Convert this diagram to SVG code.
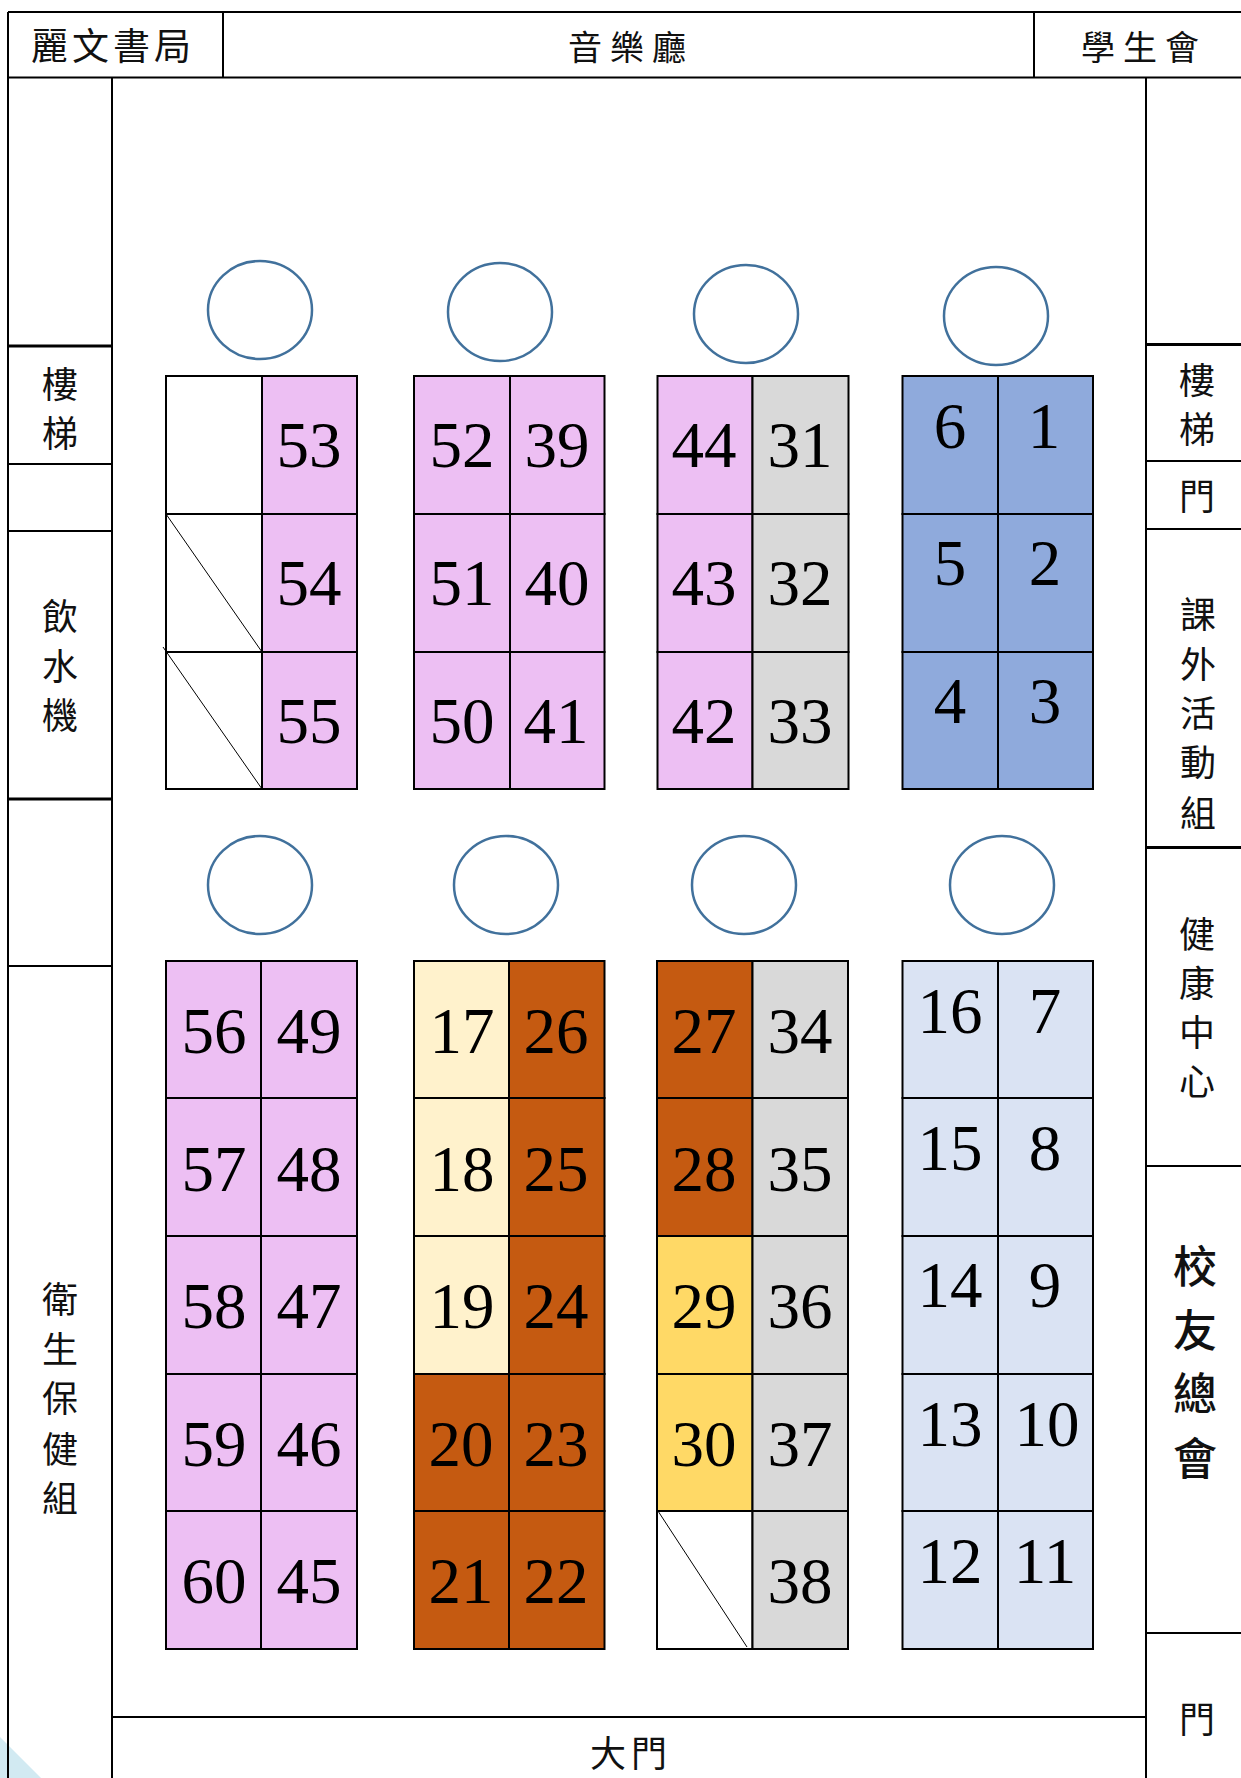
<svg xmlns="http://www.w3.org/2000/svg" width="1241" height="1778" viewBox="0 0 1241 1778">
<style>
.p{fill:#EDBFF3}.g{fill:#D9D9D9}.b{fill:#8FAADC}.l{fill:#DAE3F3}.c{fill:#FFF2CC}.o{fill:#C55A11}.y{fill:#FFD966}.w{fill:#fff}
rect{stroke:#000;stroke-width:2}
.n{font-family:"Liberation Serif",serif;font-size:65px;text-anchor:middle;fill:#000}
.t{font-family:"Noto Sans CJK TC",sans-serif;font-size:36px;text-anchor:middle;fill:#111;font-weight:400}
.h{font-family:"Noto Sans CJK TC",sans-serif;font-size:37px;fill:#111;font-weight:400}
.k{font-size:44px;font-weight:500}
.s{stroke:#000;stroke-width:2;fill:none}
.f{stroke:#000;stroke-width:3;fill:none}
.d{stroke:#000;stroke-width:1;fill:none}
.e{fill:#fff;stroke:#41719C;stroke-width:2.5}
</style>
<rect width="1241" height="1778" fill="#fff" style="stroke:none"/>
<polygon points="0,1737 41,1778 0,1778" fill="#D2EAF2"/>
<g id="walls">
<path class="s" d="M8 12H1241M8 77.500H1241M8 12V1778M223 12V77.500M1034 12V77.500M112 77.500V1778M1146 77.500V1778M112 1717H1146"/>
<path class="s" d="M8 464H112M8 531H112M8 966H112M1146 461H1241M1146 529H1241M1146 1166H1241M1146 1633H1241"/>
<path class="f" d="M8 346H112M8 799H112M1146 344.500H1241M1146 847.500H1241"/>
</g>
<g id="room-bookstore"><text class="h" x="31" y="60" style="letter-spacing:4px">麗文書局</text></g>
<g id="room-hall"><text class="h" x="568" y="60" style="font-size:34px;letter-spacing:8px">音樂廳</text></g>
<g id="room-union"><text class="h" x="1081" y="60" style="font-size:34px;letter-spacing:8px">學生會</text></g>
<g id="room-stairs-l"><text class="t" x="60" y="398">樓</text><text class="t" x="60" y="447">梯</text></g>
<g id="room-water"><text class="t" x="60" y="630">飲</text><text class="t" x="60" y="680">水</text><text class="t" x="60" y="729">機</text></g>
<g id="room-health"><text class="t" x="60" y="1313">衛</text><text class="t" x="60" y="1363">生</text><text class="t" x="60" y="1412">保</text><text class="t" x="60" y="1463">健</text><text class="t" x="60" y="1512">組</text></g>
<g id="room-stairs-r"><text class="t" x="1197" y="394">樓</text><text class="t" x="1197" y="443">梯</text></g>
<g id="room-door-r1"><text class="t" x="1197" y="510">門</text></g>
<g id="room-activities"><text class="t" x="1198" y="628">課</text><text class="t" x="1198" y="678">外</text><text class="t" x="1198" y="727">活</text><text class="t" x="1198" y="776">動</text><text class="t" x="1198" y="827">組</text></g>
<g id="room-care"><text class="t" x="1197" y="948">健</text><text class="t" x="1197" y="997">康</text><text class="t" x="1197" y="1046">中</text><text class="t" x="1197" y="1095">心</text></g>
<g id="room-alumni"><text class="t k" x="1195" y="1283">校</text><text class="t k" x="1195" y="1347">友</text><text class="t k" x="1195" y="1410">總</text><text class="t k" x="1195" y="1475">會</text></g>
<g id="room-door-r2"><text class="t" x="1197" y="1733">門</text></g>
<g id="room-gate"><text class="h" x="590" y="1767" style="font-size:36px;letter-spacing:5px">大門</text></g>
<g id="tables">
<ellipse class="e" cx="260" cy="310" rx="52" ry="49"/><ellipse class="e" cx="500" cy="312" rx="52" ry="49"/><ellipse class="e" cx="746" cy="314" rx="52" ry="49"/><ellipse class="e" cx="996" cy="316" rx="52" ry="49"/>
<ellipse class="e" cx="260" cy="885" rx="52" ry="49"/><ellipse class="e" cx="506" cy="885" rx="52" ry="49"/><ellipse class="e" cx="744" cy="885" rx="52" ry="49"/><ellipse class="e" cx="1002" cy="885" rx="52" ry="49"/>
</g>
<g id="blank-seats">
<rect class="w" x="166" y="376" width="96" height="138"/><rect class="w" x="166" y="514" width="96" height="138"/><rect class="w" x="166" y="652" width="96" height="137"/><rect class="w" x="657" y="1511" width="95.500" height="138"/>
<path class="d" d="M166 514L262 652M163 647L262 789M658 1511L747 1647"/>
</g>
<g id="seat-53"><rect class="p" x="262" y="376" width="95" height="138"/><text class="n" x="309" y="467">53</text></g>
<g id="seat-54"><rect class="p" x="262" y="514" width="95" height="138"/><text class="n" x="309" y="605">54</text></g>
<g id="seat-55"><rect class="p" x="262" y="652" width="95" height="137"/><text class="n" x="309" y="743">55</text></g>
<g id="seat-52"><rect class="p" x="414" y="376" width="96" height="138"/><text class="n" x="462" y="467">52</text></g>
<g id="seat-51"><rect class="p" x="414" y="514" width="96" height="138"/><text class="n" x="462" y="605">51</text></g>
<g id="seat-50"><rect class="p" x="414" y="652" width="96" height="137"/><text class="n" x="462" y="743">50</text></g>
<g id="seat-39"><rect class="p" x="510" y="376" width="94.500" height="138"/><text class="n" x="557" y="467">39</text></g>
<g id="seat-40"><rect class="p" x="510" y="514" width="94.500" height="138"/><text class="n" x="557" y="605">40</text></g>
<g id="seat-41"><rect class="p" x="510" y="652" width="94.500" height="137"/><text class="n" x="556" y="743">41</text></g>
<g id="seat-44"><rect class="p" x="657.500" y="376" width="95" height="138"/><text class="n" x="704" y="467">44</text></g>
<g id="seat-43"><rect class="p" x="657.500" y="514" width="95" height="138"/><text class="n" x="704" y="605">43</text></g>
<g id="seat-42"><rect class="p" x="657.500" y="652" width="95" height="137"/><text class="n" x="704" y="743">42</text></g>
<g id="seat-31"><rect class="g" x="752.500" y="376" width="96" height="138"/><text class="n" x="800" y="467">31</text></g>
<g id="seat-32"><rect class="g" x="752.500" y="514" width="96" height="138"/><text class="n" x="800" y="605">32</text></g>
<g id="seat-33"><rect class="g" x="752.500" y="652" width="96" height="137"/><text class="n" x="800" y="743">33</text></g>
<g id="seat-6"><rect class="b" x="902.500" y="376" width="95.500" height="138"/><text class="n" x="950" y="448">6</text></g>
<g id="seat-5"><rect class="b" x="902.500" y="514" width="95.500" height="138"/><text class="n" x="950" y="585">5</text></g>
<g id="seat-4"><rect class="b" x="902.500" y="652" width="95.500" height="137"/><text class="n" x="950" y="723">4</text></g>
<g id="seat-1"><rect class="b" x="998" y="376" width="95" height="138"/><text class="n" x="1044" y="448">1</text></g>
<g id="seat-2"><rect class="b" x="998" y="514" width="95" height="138"/><text class="n" x="1045" y="585">2</text></g>
<g id="seat-3"><rect class="b" x="998" y="652" width="95" height="137"/><text class="n" x="1045" y="723">3</text></g>
<g id="seat-56"><rect class="p" x="166" y="961" width="95" height="137"/><text class="n" x="214" y="1053">56</text></g>
<g id="seat-57"><rect class="p" x="166" y="1098" width="95" height="138"/><text class="n" x="214" y="1191">57</text></g>
<g id="seat-58"><rect class="p" x="166" y="1236" width="95" height="138"/><text class="n" x="214" y="1328">58</text></g>
<g id="seat-59"><rect class="p" x="166" y="1374" width="95" height="137"/><text class="n" x="214" y="1466">59</text></g>
<g id="seat-60"><rect class="p" x="166" y="1511" width="95" height="138"/><text class="n" x="214" y="1603">60</text></g>
<g id="seat-49"><rect class="p" x="261" y="961" width="96" height="137"/><text class="n" x="309" y="1053">49</text></g>
<g id="seat-48"><rect class="p" x="261" y="1098" width="96" height="138"/><text class="n" x="309" y="1191">48</text></g>
<g id="seat-47"><rect class="p" x="261" y="1236" width="96" height="138"/><text class="n" x="309" y="1328">47</text></g>
<g id="seat-46"><rect class="p" x="261" y="1374" width="96" height="137"/><text class="n" x="309" y="1466">46</text></g>
<g id="seat-45"><rect class="p" x="261" y="1511" width="96" height="138"/><text class="n" x="309" y="1603">45</text></g>
<g id="seat-17"><rect class="c" x="414" y="961" width="95" height="137"/><text class="n" x="462" y="1053">17</text></g>
<g id="seat-18"><rect class="c" x="414" y="1098" width="95" height="138"/><text class="n" x="462" y="1191">18</text></g>
<g id="seat-19"><rect class="c" x="414" y="1236" width="95" height="138"/><text class="n" x="462" y="1328">19</text></g>
<g id="seat-20"><rect class="o" x="414" y="1374" width="95" height="137"/><text class="n" x="461" y="1466">20</text></g>
<g id="seat-21"><rect class="o" x="414" y="1511" width="95" height="138"/><text class="n" x="461" y="1603">21</text></g>
<g id="seat-26"><rect class="o" x="509" y="961" width="95.500" height="137"/><text class="n" x="556" y="1053">26</text></g>
<g id="seat-25"><rect class="o" x="509" y="1098" width="95.500" height="138"/><text class="n" x="556" y="1191">25</text></g>
<g id="seat-24"><rect class="o" x="509" y="1236" width="95.500" height="138"/><text class="n" x="556" y="1328">24</text></g>
<g id="seat-23"><rect class="o" x="509" y="1374" width="95.500" height="137"/><text class="n" x="556" y="1466">23</text></g>
<g id="seat-22"><rect class="o" x="509" y="1511" width="95.500" height="138"/><text class="n" x="556" y="1603">22</text></g>
<g id="seat-27"><rect class="o" x="657" y="961" width="95.500" height="137"/><text class="n" x="704" y="1053">27</text></g>
<g id="seat-28"><rect class="o" x="657" y="1098" width="95.500" height="138"/><text class="n" x="704" y="1191">28</text></g>
<g id="seat-29"><rect class="y" x="657" y="1236" width="95.500" height="138"/><text class="n" x="704" y="1328">29</text></g>
<g id="seat-30"><rect class="y" x="657" y="1374" width="95.500" height="137"/><text class="n" x="704" y="1466">30</text></g>
<g id="seat-34"><rect class="g" x="752.500" y="961" width="95.500" height="137"/><text class="n" x="800" y="1053">34</text></g>
<g id="seat-35"><rect class="g" x="752.500" y="1098" width="95.500" height="138"/><text class="n" x="800" y="1191">35</text></g>
<g id="seat-36"><rect class="g" x="752.500" y="1236" width="95.500" height="138"/><text class="n" x="800" y="1328">36</text></g>
<g id="seat-37"><rect class="g" x="752.500" y="1374" width="95.500" height="137"/><text class="n" x="800" y="1466">37</text></g>
<g id="seat-38"><rect class="g" x="752.500" y="1511" width="95.500" height="138"/><text class="n" x="800" y="1603">38</text></g>
<g id="seat-16"><rect class="l" x="902.500" y="961" width="95.500" height="137"/><text class="n" x="950" y="1033">16</text></g>
<g id="seat-15"><rect class="l" x="902.500" y="1098" width="95.500" height="138"/><text class="n" x="950" y="1170">15</text></g>
<g id="seat-14"><rect class="l" x="902.500" y="1236" width="95.500" height="138"/><text class="n" x="950" y="1307">14</text></g>
<g id="seat-13"><rect class="l" x="902.500" y="1374" width="95.500" height="137"/><text class="n" x="950" y="1446">13</text></g>
<g id="seat-12"><rect class="l" x="902.500" y="1511" width="95.500" height="138"/><text class="n" x="950" y="1583">12</text></g>
<g id="seat-7"><rect class="l" x="998" y="961" width="95" height="137"/><text class="n" x="1045" y="1033">7</text></g>
<g id="seat-8"><rect class="l" x="998" y="1098" width="95" height="138"/><text class="n" x="1045" y="1170">8</text></g>
<g id="seat-9"><rect class="l" x="998" y="1236" width="95" height="138"/><text class="n" x="1045" y="1307">9</text></g>
<g id="seat-10"><rect class="l" x="998" y="1374" width="95" height="137"/><text class="n" x="1047" y="1446">10</text></g>
<g id="seat-11"><rect class="l" x="998" y="1511" width="95" height="138"/><text class="n" x="1045" y="1583">11</text></g>
</svg>
